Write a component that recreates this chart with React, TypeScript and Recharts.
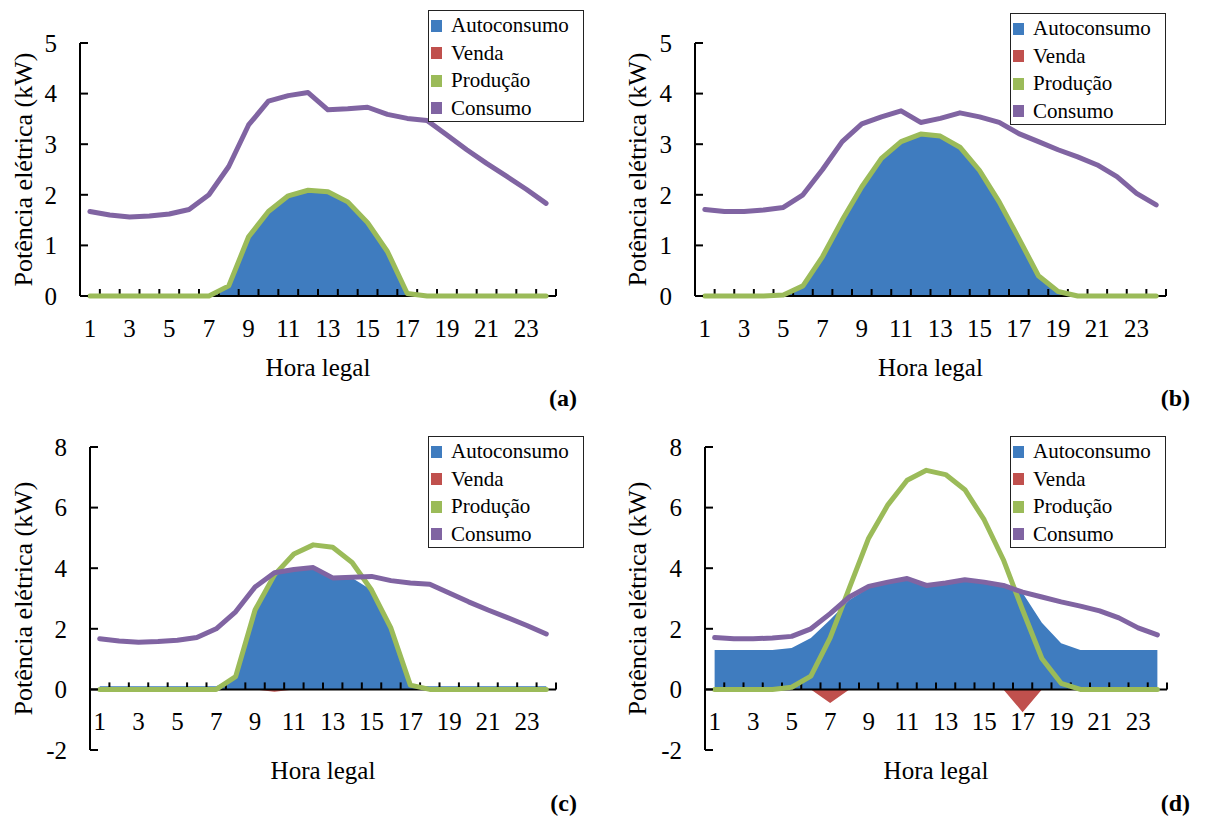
import { ComposedChart, Area, Line, XAxis, YAxis, ReferenceLine } from 'recharts';

// hours of the day (category positions) and the labelled ones
const hours = [1, 2, 3, 4, 5, 6, 7, 8, 9, 10, 11, 12, 13, 14, 15, 16, 17, 18, 19, 20, 21, 22, 23, 24];
const hourLabels = [1, 3, 5, 7, 9, 11, 13, 15, 17, 19, 21, 23];
const yTicksSmall = [0, 1, 2, 3, 4, 5];
const yTicksLarge = [-2, 0, 2, 4, 6, 8];

// kW
const consumoAC = [1.67, 1.6, 1.56, 1.58, 1.62, 1.71, 2.0, 2.56, 3.38, 3.85, 3.96, 4.02, 3.68, 3.7, 3.73, 3.59, 3.51, 3.47, 3.18, 2.89, 2.62, 2.37, 2.11, 1.83];
const consumoBD = [1.71, 1.67, 1.67, 1.7, 1.75, 2.0, 2.5, 3.05, 3.4, 3.54, 3.66, 3.43, 3.51, 3.62, 3.54, 3.43, 3.21, 3.05, 2.89, 2.75, 2.59, 2.36, 2.03, 1.8];

const producaoA = [0, 0, 0, 0, 0, 0, 0, 0.2, 1.17, 1.67, 1.98, 2.09, 2.06, 1.86, 1.45, 0.88, 0.05, 0, 0, 0, 0, 0, 0, 0];
const autoconsumoA = [0, 0, 0, 0, 0, 0, 0, 0.2, 1.17, 1.67, 1.98, 2.09, 2.06, 1.86, 1.45, 0.88, 0.05, 0, 0, 0, 0, 0, 0, 0];
const vendaA = [0, 0, 0, 0, 0, 0, 0, 0, 0, 0, 0, 0, 0, 0, 0, 0, 0, 0, 0, 0, 0, 0, 0, 0];

const producaoB = [0, 0, 0, 0, 0.02, 0.2, 0.78, 1.5, 2.16, 2.72, 3.05, 3.2, 3.16, 2.94, 2.48, 1.86, 1.14, 0.4, 0.09, 0, 0, 0, 0, 0];
const autoconsumoB = [0, 0, 0, 0, 0.02, 0.2, 0.78, 1.5, 2.16, 2.72, 3.05, 3.2, 3.16, 2.94, 2.48, 1.86, 1.14, 0.4, 0.09, 0, 0, 0, 0, 0];
const vendaB = [0, 0, 0, 0, 0, 0, 0, 0, 0, 0, 0, 0, 0, 0, 0, 0, 0, 0, 0, 0, 0, 0, 0, 0];

const producaoC = [0, 0, 0, 0, 0, 0, 0, 0.42, 2.62, 3.78, 4.47, 4.77, 4.69, 4.19, 3.28, 2.02, 0.14, 0, 0, 0, 0, 0, 0, 0];
const autoconsumoC = [0.1, 0.1, 0.1, 0.1, 0.1, 0.1, 0.1, 0.42, 2.62, 3.78, 3.92, 4.0, 3.66, 3.68, 3.28, 2.02, 0.14, 0.1, 0.1, 0.1, 0.1, 0.1, 0.1, 0.1];
const vendaC = [0, 0, 0, 0, 0, 0, 0, 0, 0, -0.08, 0, 0, 0, 0, 0, 0, 0, 0, 0, 0, 0, 0, 0, 0];

const producaoD = [0, 0, 0, 0, 0.07, 0.44, 1.7, 3.35, 4.99, 6.09, 6.9, 7.23, 7.09, 6.59, 5.6, 4.28, 2.62, 1.02, 0.2, 0, 0, 0, 0, 0];
const autoconsumoD = [1.3, 1.3, 1.3, 1.3, 1.37, 1.7, 2.3, 2.95, 3.35, 3.5, 3.62, 3.4, 3.48, 3.58, 3.5, 3.4, 3.18, 2.2, 1.52, 1.3, 1.3, 1.3, 1.3, 1.3];
const vendaD = [0, 0, 0, 0, 0, 0, -0.45, 0, 0, 0, 0, 0, 0, 0, 0, 0, -0.75, 0, 0, 0, 0, 0, 0, 0];

const seriesNames = ['Autoconsumo', 'Venda', 'Produção', 'Consumo'];
const seriesColors = ['#3F7CBF', '#C0504D', '#9BBB59', '#8064A2'];

const FONT = 'Liberation Serif, Times New Roman, serif';

function rows(auto: number[], venda: number[], prod: number[], cons: number[]) {
  return hours.map((h, i) => ({
    hour: h,
    autoconsumo: auto[i],
    venda: venda[i],
    producao: prod[i],
    consumo: cons[i],
  }));
}

// x axis drawn along y = 0 (crosses mid-plot in c/d), ticks between hours
function HourAxis(props: any) {
  const { x1, x2, y1 } = props;
  const step = (x2 - x1) / hours.length;
  const xOf = (h: number) => x1 + (h - 0.5) * step;
  return (
    <g>
      <line x1={x1} y1={y1} x2={x2} y2={y1} stroke="#000" strokeWidth={2} />
      {hours.map((h) => (
        <line key={h} x1={xOf(h + 0.5)} y1={y1} x2={xOf(h + 0.5)} y2={y1 - 7} stroke="#000" strokeWidth={2} />
      ))}
      {hourLabels.map((h) => (
        <text key={h} x={xOf(h)} y={y1 + 41} textAnchor="middle" fontSize={25} fontFamily={FONT} fill="#000">
          {h}
        </text>
      ))}
    </g>
  );
}

function LegendBox({ left, top }: { left: number; top: number }) {
  return (
    <div
      style={{
        position: 'absolute',
        left,
        top,
        width: 156,
        height: 112,
        boxSizing: 'border-box',
        border: '1.5px solid #222',
        background: '#fff',
        paddingTop: 1,
        fontFamily: FONT,
        fontSize: 21,
      }}
    >
      {seriesNames.map((name, i) => (
        <div key={name} style={{ display: 'flex', alignItems: 'center', height: 27.5 }}>
          <span style={{ width: 11, height: 12, marginLeft: 2, marginRight: 9, background: seriesColors[i] }} />
          <span>{name}</span>
        </div>
      ))}
    </div>
  );
}

interface PanelProps {
  left: number;
  top: number;
  width: number;
  data: ReturnType<typeof rows>;
  yTicks: number[];
  yWidth: number;
  marginTop: number;
  marginRight: number;
  xHeight: number;
  titleOffset: number;
  yTitleX: number;
  legendLeft: number;
  legendTop: number;
  letter: string;
  letterRight: number;
  letterTop: number;
}

function Panel(p: PanelProps) {
  const yDomain = [p.yTicks[0], p.yTicks[p.yTicks.length - 1]];
  return (
    <div style={{ position: 'absolute', left: p.left, top: p.top, width: p.width, height: 410 }}>
      <ComposedChart
        width={p.width}
        height={410}
        data={p.data}
        margin={{ top: p.marginTop, right: p.marginRight, bottom: 0, left: 0 }}
      >
        <XAxis
          dataKey="hour"
          type="number"
          domain={[0.5, 24.5]}
          tick={false}
          axisLine={false}
          tickLine={false}
          height={p.xHeight}
          label={{
            value: 'Hora legal',
            position: 'insideTop',
            offset: p.titleOffset,
            fill: '#000',
            fontSize: 25,
            fontFamily: FONT,
          }}
        />
        <YAxis
          type="number"
          domain={yDomain}
          ticks={p.yTicks}
          interval={0}
          width={p.yWidth}
          tickSize={-8}
          tickMargin={31}
          axisLine={{ stroke: '#000', strokeWidth: 2 }}
          tickLine={{ stroke: '#000', strokeWidth: 2 }}
          tick={{ fill: '#000', fontSize: 25, fontFamily: FONT }}
          label={{
            value: 'Potência elétrica (kW)',
            angle: -90,
            position: 'insideLeft',
            offset: p.yTitleX,
            fill: '#000',
            fontSize: 26,
            fontFamily: FONT,
            style: { textAnchor: 'middle' },
          }}
        />
        <Area
          type="linear"
          dataKey="autoconsumo"
          fill={seriesColors[0]}
          fillOpacity={1}
          stroke="none"
          baseValue={0}
          isAnimationActive={false}
          activeDot={false}
        />
        <Area
          type="linear"
          dataKey="venda"
          fill={seriesColors[1]}
          fillOpacity={1}
          stroke="none"
          baseValue={0}
          isAnimationActive={false}
          activeDot={false}
        />
        <ReferenceLine y={0} ifOverflow="visible" shape={HourAxis} />
        <Line
          type="linear"
          dataKey="producao"
          stroke={seriesColors[2]}
          strokeWidth={5}
          strokeLinejoin="round"
          strokeLinecap="round"
          dot={false}
          activeDot={false}
          isAnimationActive={false}
        />
        <Line
          type="linear"
          dataKey="consumo"
          stroke={seriesColors[3]}
          strokeWidth={5}
          strokeLinejoin="round"
          strokeLinecap="round"
          dot={false}
          activeDot={false}
          isAnimationActive={false}
        />
      </ComposedChart>
      <LegendBox left={p.legendLeft} top={p.legendTop} />
      <div
        style={{
          position: 'absolute',
          right: p.letterRight,
          top: p.letterTop,
          fontFamily: FONT,
          fontWeight: 'bold',
          fontSize: 24,
          lineHeight: '24px',
        }}
      >
        {p.letter}
      </div>
    </div>
  );
}

export default function App() {
  return (
    <div style={{ position: 'absolute', left: 0, top: 0, width: 1206, height: 820, background: '#fff', overflow: 'hidden' }}>
      <Panel
        left={0} top={0} width={600}
        data={rows(autoconsumoA, vendaA, producaoA, consumoAC)}
        yTicks={yTicksSmall}
        yWidth={80} marginTop={43} marginRight={44} xHeight={114} titleOffset={62} yTitleX={23}
        legendLeft={428} legendTop={10}
        letter="(a)" letterRight={23} letterTop={386}
      />
      <Panel
        left={600} top={0} width={606}
        data={rows(autoconsumoB, vendaB, producaoB, consumoBD)}
        yTicks={yTicksSmall}
        yWidth={95} marginTop={43} marginRight={40} xHeight={114} titleOffset={62} yTitleX={37}
        legendLeft={410} legendTop={13}
        letter="(b)" letterRight={16} letterTop={386}
      />
      <Panel
        left={0} top={410} width={600}
        data={rows(autoconsumoC, vendaC, producaoC, consumoAC)}
        yTicks={yTicksLarge}
        yWidth={90} marginTop={37} marginRight={44} xHeight={70} titleOffset={11} yTitleX={23}
        legendLeft={428} legendTop={26}
        letter="(c)" letterRight={23} letterTop={381}
      />
      <Panel
        left={600} top={410} width={606}
        data={rows(autoconsumoD, vendaD, producaoD, consumoBD)}
        yTicks={yTicksLarge}
        yWidth={105} marginTop={37} marginRight={39} xHeight={70} titleOffset={11} yTitleX={37}
        legendLeft={410} legendTop={26}
        letter="(d)" letterRight={16} letterTop={381}
      />
    </div>
  );
}
